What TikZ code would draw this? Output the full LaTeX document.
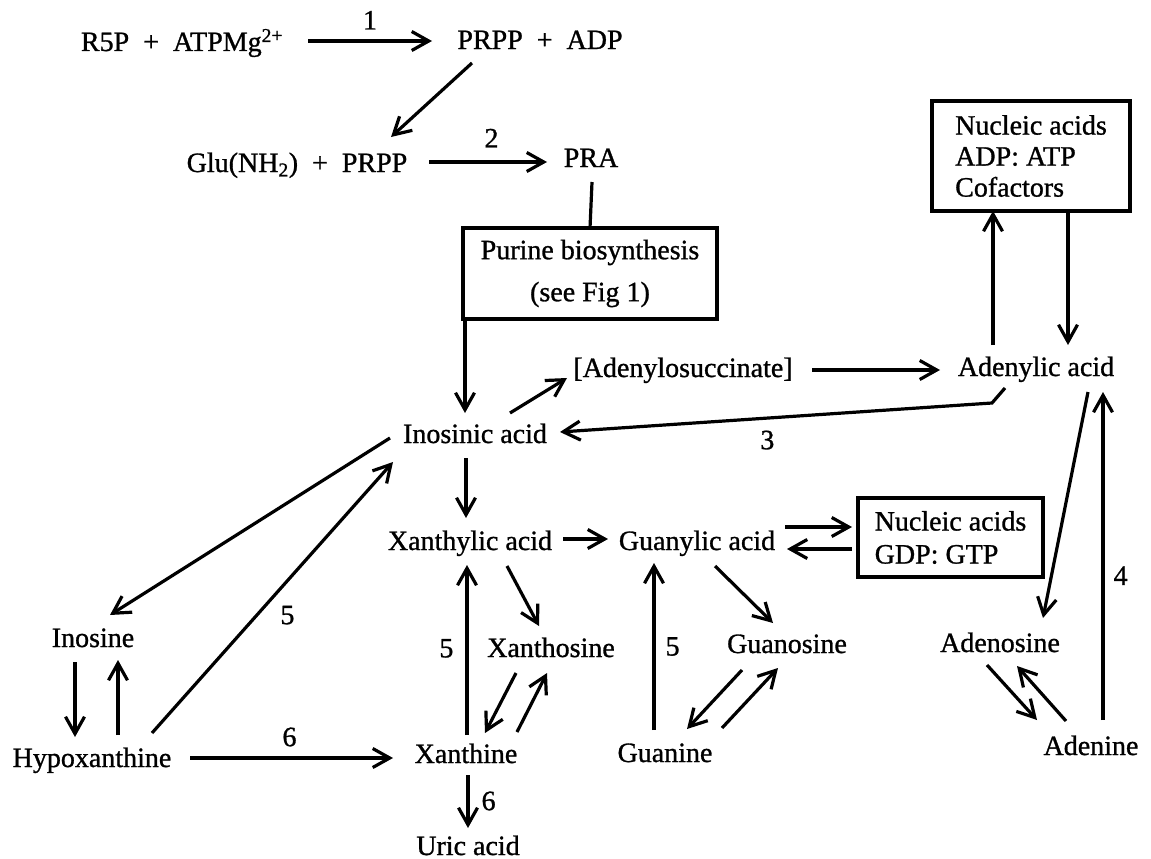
\documentclass[tikz,border=0pt]{standalone}
\usepackage{fontspec}
\setmainfont{Liberation Serif}[FakeBold=1]
\usetikzlibrary{arrows.meta,positioning}

\newcommand{\plus}{\enspace+\enspace}

\begin{document}
\begin{tikzpicture}[x=1pt,y=-1pt,
            every node/.style={font=\fontsize{28}{34}\selectfont},
            chem node/.style={inner sep=0pt, anchor=base},
            box node/.style={draw, line width=4pt, inner sep=0pt, outer sep=0pt, align=left},
            step num/.style={inner sep=0pt},
            react/.style={line width=3.2pt, -{Straight Barb[length=17pt,width=19pt]}}]

            \useasboundingbox (0,0) rectangle (1151,859);

            % compounds
            \node[chem node] (r5p) at (182,51) {R5P\plus ATPMg\textsuperscript{2+}};
            \node[chem node] (prpp) at (540,49) {PRPP\plus ADP};
            \node[chem node] (glu) at (297,172) {Glu(NH\textsubscript{2})\plus PRPP};
            \node[chem node] (pra) at (591,167) {PRA};
            \node[chem node] (adsucc) at (683,377) {[Adenylosuccinate]};
            \node[chem node] (adenylic) at (1036,376) {Adenylic acid};
            \node[chem node] (inosinic) at (475,443) {Inosinic acid};
            \node[chem node] (xanthylic) at (470,550) {Xanthylic acid};
            \node[chem node] (guanylic) at (697,550) {Guanylic acid};
            \node[chem node] (inosine) at (93,647) {Inosine};
            \node[chem node] (xanthosine) at (551,657) {Xanthosine};
            \node[chem node] (guanosine) at (787,653) {Guanosine};
            \node[chem node] (adenosine) at (1000,652) {Adenosine};
            \node[chem node] (hypox) at (92,767) {Hypoxanthine};
            \node[chem node] (xanthine) at (466,763) {Xanthine};
            \node[chem node] (guanine) at (665,762) {Guanine};
            \node[chem node] (adenine) at (1091,755) {Adenine};
            \node[chem node] (uric) at (468,855) {Uric acid};

            % boxes
            \node[box node, align=center, minimum width=254pt, minimum height=91pt] (purine) at (590,273.5) {Purine biosynthesis\\[8pt](see Fig 1)};
            \node[box node, minimum width=198pt, minimum height=110pt, font=\fontsize{28}{31}\selectfont] (cofac) at (1031,156) {Nucleic acids\\ADP: ATP\\Cofactors};
            \node[box node, minimum width=185pt, minimum height=79pt, font=\fontsize{28}{33}\selectfont] (gtp) at (950.5,537.5) {Nucleic acids\\GDP: GTP};

            % top part
            \draw[react] ([shift={(126,-10)}]r5p.base) -- node[step num, above=10pt] {1} ([shift={(-108,-8)}]prpp.base);
            \draw[react] ([shift={(-68,14)}]prpp.base) -- ([shift={(94,-35)}]glu.base);
            \draw[react] ([shift={(132,-10)}]glu.base) -- node[step num, pos=0.53, above=13pt] {2} ([shift={(-44,-5)}]pra.base);
            \draw[line width=3.2pt] ([shift={(1,15)}]pra.base) -- (purine.north);
            \draw[react] ([shift={(2,0)}]purine.south west) -- ([shift={(-10,-30)}]inosinic.base);

            % adenylic acid branch
            \draw[react] ([shift={(35,-30)}]inosinic.base) -- ([shift={(-116,1)}]adsucc.base);
            \draw[react] ([shift={(129,-7)}]adsucc.base) -- ([shift={(-96,-6)}]adenylic.base);
            \draw[react] ([shift={(-43,-31)}]adenylic.base) -- ([shift={(-38,0)}]cofac.south);
            \draw[react] ([shift={(37,0)}]cofac.south) -- ([shift={(32,-31)}]adenylic.base);
            \draw[react] ([shift={(-31,12)}]adenylic.base) -- ++(-13,15) -- node[step num, pos=0.52, below=11pt] {3} ([shift={(85,-11)}]inosinic.base);
            \draw[react] ([shift={(52,16)}]adenylic.base) -- ([shift={(43,-34)}]adenosine.base);
            \draw[react] ([shift={(12,-35)}]adenine.base) -- node[step num, pos=0.44, right=9pt] {4} ([shift={(67,16)}]adenylic.base);
            \draw[react] ([shift={(-13,13)}]adenosine.base) -- ([shift={(-54,-35)}]adenine.base);
            \draw[react] ([shift={(-25,-34)}]adenine.base) -- ([shift={(17,14)}]adenosine.base);

            % inosine and hypoxanthine
            \draw[react] ([shift={(-85,-5)}]inosinic.base) -- ([shift={(17,-32)}]inosine.base);
            \draw[react] ([shift={(60,-34)}]hypox.base) -- node[step num, pos=0.435, right=22pt] {5} ([shift={(-82,19)}]inosinic.base);
            \draw[react] ([shift={(-18,15)}]inosine.base) -- ([shift={(-17,-30)}]hypox.base);
            \draw[react] ([shift={(26,-32)}]hypox.base) -- ([shift={(25,13)}]inosine.base);
            \draw[react] ([shift={(98,-9)}]hypox.base) -- node[step num, pos=0.49, above=10pt] {6} ([shift={(-73,-5)}]xanthine.base);

            % xanthine group
            \draw[react] ([shift={(-9,15)}]inosinic.base) -- ([shift={(-4,-32)}]xanthylic.base);
            \draw[react] ([shift={(1,-28)}]xanthine.base) -- node[step num, pos=0.51, left=12pt] {5} ([shift={(-3,15)}]xanthylic.base);
            \draw[react] ([shift={(37,16)}]xanthylic.base) -- ([shift={(-12,-31)}]xanthosine.base);
            \draw[react] ([shift={(-35,16)}]xanthosine.base) -- ([shift={(19,-30)}]xanthine.base);
            \draw[react] ([shift={(51,-31)}]xanthine.base) -- ([shift={(-4,16)}]xanthosine.base);
            \draw[react] ([shift={(2,12)}]xanthine.base) -- node[step num, pos=0.49, right=12pt] {6} ([shift={(0,-27)}]uric.base);

            % guanine group
            \draw[react] ([shift={(93,-11)}]xanthylic.base) -- ([shift={(-89,-11)}]guanylic.base);
            \draw[react] ([shift={(88,-23)}]guanylic.base) -- ([shift={(-6,-10.5)}]gtp.west);
            \draw[react] ([shift={(-6,11.5)}]gtp.west) -- ([shift={(90,-1)}]guanylic.base);
            \draw[react] ([shift={(-11,-32)}]guanine.base) -- node[step num, pos=0.5, right=10pt] {5} ([shift={(-43,13)}]guanylic.base);
            \draw[react] ([shift={(18,16)}]guanylic.base) -- ([shift={(-14,-30)}]guanosine.base);
            \draw[react] ([shift={(-45,17)}]guanosine.base) -- ([shift={(22,-33)}]guanine.base);
            \draw[react] ([shift={(57,-34)}]guanine.base) -- ([shift={(-9,15)}]guanosine.base);

\end{tikzpicture}
\end{document}
